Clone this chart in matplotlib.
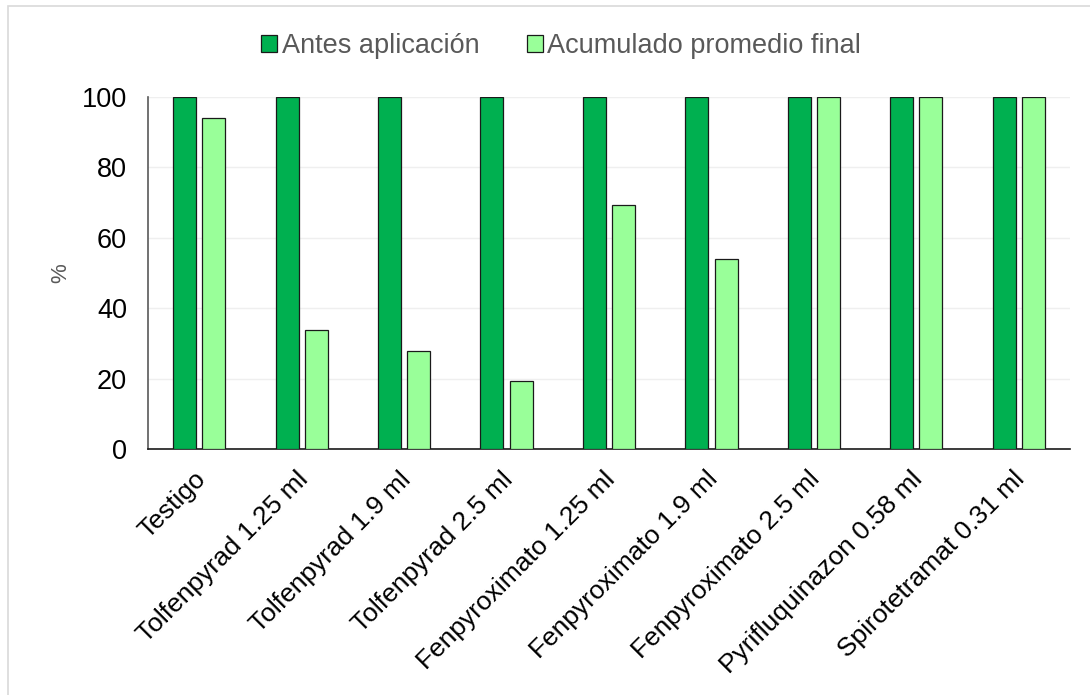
import matplotlib
matplotlib.use("Agg")
import matplotlib.pyplot as plt
from matplotlib.patches import Rectangle
from matplotlib.transforms import ScaledTranslation
import numpy as np

plt.rcParams['font.family'] = ['Liberation Sans', 'DejaVu Sans']

categories = ["Testigo", "Tolfenpyrad 1.25 ml", "Tolfenpyrad 1.9 ml", "Tolfenpyrad 2.5 ml",
              "Fenpyroximato 1.25 ml", "Fenpyroximato 1.9 ml", "Fenpyroximato 2.5 ml",
              "Pyrifluquinazon 0.58 ml", "Spirotetramat 0.31 ml"]
antes = [100, 100, 100, 100, 100, 100, 100, 100, 100]
acumulado = [94.0, 33.8, 27.8, 19.3, 69.3, 53.9, 100, 100, 100]
series_names = ["Antes aplicación", "Acumulado promedio final"]
yticks = [0, 20, 40, 60, 80, 100]

W, H = 1090, 695
fig = plt.figure(figsize=(W / 100, H / 100), dpi=100)
ax = fig.add_axes([148 / W, 1 - 449 / H, (1070 - 148) / W, (449 - 97) / H])

# outer chart frame
fig.patches.append(Rectangle((8 / W, -0.05), 1.2, 1 - 6 / H + 0.05, transform=fig.transFigure,
                             fill=False, edgecolor='#d9d9d9', linewidth=1.2))

x = np.arange(len(categories))
bw = 0.225
off = 0.1425
ax.bar(x - off, antes, bw, color='#00b050', edgecolor='#1a1a1a', linewidth=0.9,
       label=series_names[0], zorder=3)
ax.bar(x + off, acumulado, bw, color='#99ff99', edgecolor='#1a1a1a', linewidth=0.9,
       label=series_names[1], zorder=3)

ax.set_xlim(-0.5, len(categories) - 0.5)
ax.set_ylim(0, 100)
ax.set_yticks(yticks)
ax.set_yticklabels([str(v) for v in yticks], fontsize=19.5, color='black')
ax.set_xticks(x)
ax.set_xticklabels(categories, rotation=45, ha='right', rotation_mode='anchor',
                   fontsize=19, color='black')
ax.tick_params(axis='both', length=0)
ax.tick_params(axis='y', pad=15)
ax.tick_params(axis='x', pad=13)
shift = ScaledTranslation(-6 / 100, 0, fig.dpi_scale_trans)
for lbl in ax.get_xticklabels():
    lbl.set_transform(lbl.get_transform() + shift)

ax.grid(axis='y', color='#efefef', linewidth=1, zorder=0)
for s in ['top', 'right']:
    ax.spines[s].set_visible(False)
ax.spines['left'].set_color('#595959')
ax.spines['left'].set_linewidth(1.2)
ax.spines['bottom'].set_color('#1a1a1a')
ax.spines['bottom'].set_linewidth(1.2)

ax.set_ylabel('%', fontsize=16, color='#595959', labelpad=8)

leg = fig.legend(loc='center', bbox_to_anchor=(561 / W, 1 - 46 / H), ncol=2, frameon=False,
                 fontsize=19.5, handlelength=0.6, handleheight=0.6, handletextpad=0.15,
                 columnspacing=1.75)
for t in leg.get_texts():
    t.set_color('#595959')

fig.savefig('out.png', dpi=100, facecolor='white')
